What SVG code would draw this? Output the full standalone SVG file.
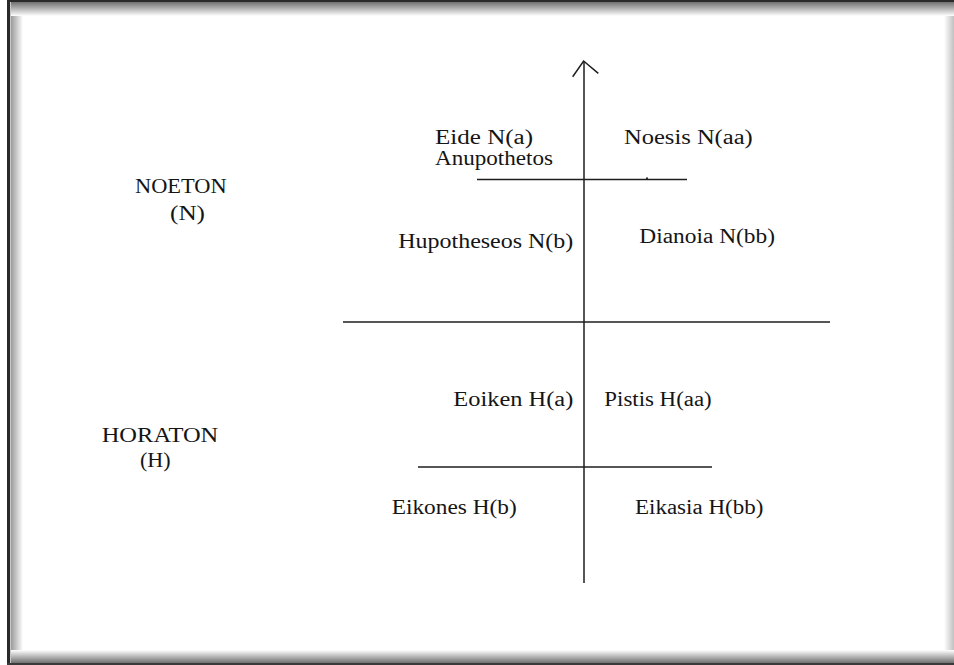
<svg xmlns="http://www.w3.org/2000/svg" width="954" height="665" viewBox="0 0 954 665">
  <defs>
    <style>
      text { font-family: "Liberation Serif", "DejaVu Serif", "Times New Roman", serif; font-size: 20px; fill: #151515; }
      .ln { stroke: #1e1e1e; stroke-width: 1.5; fill: none; }
    </style>
    <linearGradient id="gl" x1="0" y1="0" x2="1" y2="0">
      <stop offset="0" stop-color="#9a9a9a"/>
      <stop offset="1" stop-color="#ffffff"/>
    </linearGradient>
    <linearGradient id="gt" x1="0" y1="0" x2="0" y2="1">
      <stop offset="0" stop-color="#707070"/>
      <stop offset="1" stop-color="#ffffff"/>
    </linearGradient>
    <linearGradient id="gb" x1="0" y1="1" x2="0" y2="0">
      <stop offset="0" stop-color="#707070"/>
      <stop offset="1" stop-color="#ffffff"/>
    </linearGradient>
    <linearGradient id="gr" x1="1" y1="0" x2="0" y2="0">
      <stop offset="0" stop-color="#c0c0c0"/>
      <stop offset="1" stop-color="#ffffff"/>
    </linearGradient>
  </defs>

  <g id="frame">
    <rect x="0" y="0" width="954" height="665" fill="#ffffff"/>
    <rect x="11" y="0" width="12" height="665" fill="url(#gl)"/>
    <rect x="944" y="0" width="10" height="665" fill="url(#gr)"/>
    <rect x="11" y="2" width="943" height="14" fill="url(#gt)"/>
    <rect x="11" y="650" width="943" height="13" fill="url(#gb)"/>
    <rect x="7" y="0" width="3" height="665" fill="#2a2a2a"/>
    <rect x="10" y="0" width="1" height="665" fill="#c8c8c8"/>
    <rect x="7" y="0" width="947" height="2" fill="#2a2a2a"/>
    <rect x="7" y="663" width="947" height="2" fill="#3a3a3a"/>
  </g>

  <g id="connectors">
    <line class="ln" x1="584" y1="61" x2="584" y2="583"/>
    <polyline class="ln" points="572.7,76.7 583.6,61 598.3,73.3"/>
    <line class="ln" x1="477" y1="179.5" x2="687" y2="179.5"/>
    <circle cx="647" cy="178.3" r="1" fill="#1e1e1e"/>
    <line class="ln" x1="343" y1="322" x2="830" y2="322"/>
    <line class="ln" x1="418" y1="467" x2="712" y2="467"/>
  </g>

  <g id="labels" font-family="'Liberation Serif', 'DejaVu Serif', serif">
    <g id="noeton">
      <text x="135" y="193" textLength="91.7" lengthAdjust="spacingAndGlyphs">NOETON</text>
      <text x="170" y="220" textLength="35" lengthAdjust="spacingAndGlyphs">(N)</text>
    </g>
    <g id="horaton">
      <text x="101.7" y="442" textLength="116.6" lengthAdjust="spacingAndGlyphs">HORATON</text>
      <text x="140" y="467" textLength="30.7" lengthAdjust="spacingAndGlyphs">(H)</text>
    </g>
    <g id="eide">
      <text x="435" y="144" textLength="98" lengthAdjust="spacingAndGlyphs">Eide  N(a)</text>
      <text x="435" y="165" textLength="118" lengthAdjust="spacingAndGlyphs">Anupothetos</text>
    </g>
    <g id="noesis">
      <text x="624" y="144" textLength="128.7" lengthAdjust="spacingAndGlyphs">Noesis  N(aa)</text>
    </g>
    <g id="hupotheseos">
      <text x="398.3" y="248" textLength="175" lengthAdjust="spacingAndGlyphs">Hupotheseos N(b)</text>
    </g>
    <g id="dianoia">
      <text x="639.3" y="243" textLength="135.7" lengthAdjust="spacingAndGlyphs">Dianoia N(bb)</text>
    </g>
    <g id="eoiken">
      <text x="453.3" y="406" textLength="120" lengthAdjust="spacingAndGlyphs">Eoiken  H(a)</text>
    </g>
    <g id="pistis">
      <text x="604.3" y="406" textLength="107.4" lengthAdjust="spacingAndGlyphs">Pistis H(aa)</text>
    </g>
    <g id="eikones">
      <text x="391.7" y="514" textLength="125" lengthAdjust="spacingAndGlyphs">Eikones H(b)</text>
    </g>
    <g id="eikasia">
      <text x="635" y="514" textLength="128.3" lengthAdjust="spacingAndGlyphs">Eikasia H(bb)</text>
    </g>
  </g>
</svg>
